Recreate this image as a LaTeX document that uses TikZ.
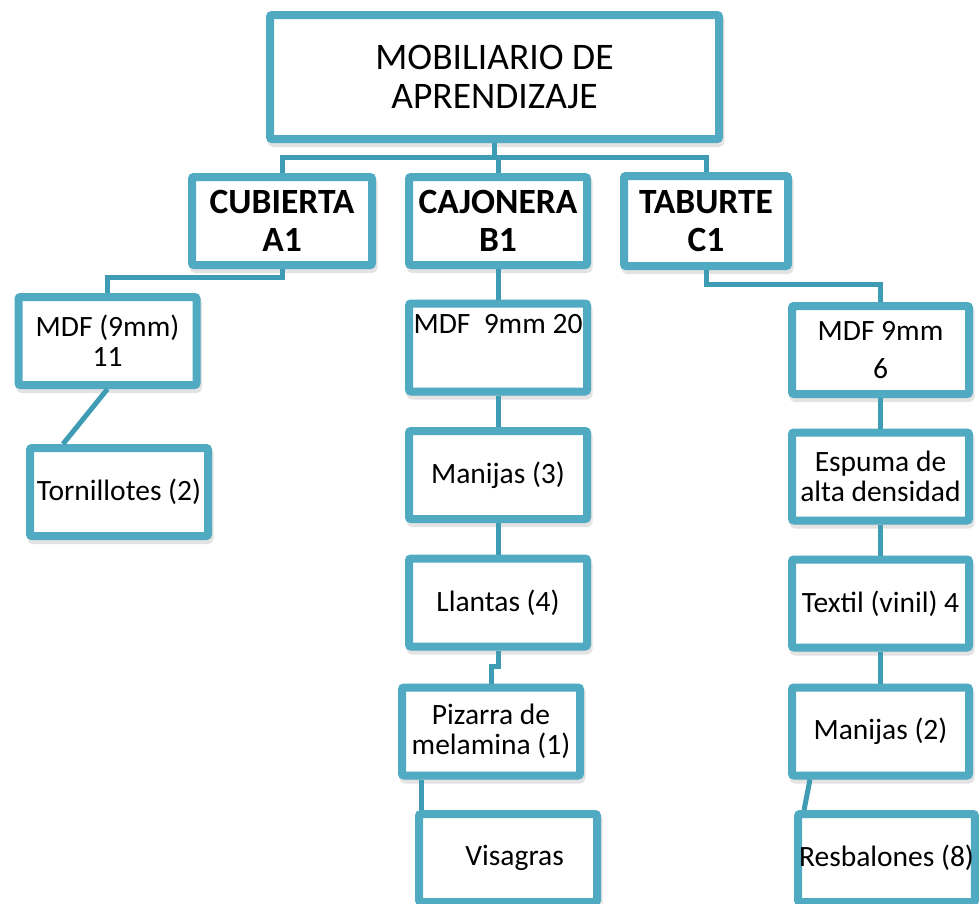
\documentclass[tikz,border=0pt]{standalone}
\usepackage{fontspec}
\setmainfont{Carlito}
\definecolor{mobblue}{RGB}{80, 170, 194}
\definecolor{linkblue}{RGB}{62, 156, 180}
\usetikzlibrary{shadows}
\tikzstyle{part} = [draw=mobblue, fill=white, line width=8pt, rounded corners=2pt,
                    minimum width=178pt, minimum height=88pt, inner sep=1pt, align=center,
                    font=\fontsize{29.5}{30}\selectfont,
                    drop shadow={draw=black!60, line width=8pt, opacity=0.18,
                                 shadow xshift=1.5pt, shadow yshift=-4pt}]
\tikzstyle{family} = [part, font=\bfseries\fontsize{35.5}{38}\selectfont]
\tikzstyle{link} = [draw=linkblue, line width=5pt]

\begin{document}
\begin{tikzpicture}[x=1pt, y=-1pt]
    \useasboundingbox (0,0) rectangle (979,903);
    \node[part, minimum width=449pt, minimum height=124pt, font=\fontsize{37.5}{39}\selectfont] (top) at (494.5, 77) {MOBILIARIO DE\\APRENDIZAJE};
    \node[family, minimum width=180pt] (cub) at (282, 221) {CUBIERTA\\A1};
    \node[family] (caj) at (498, 221) {CAJONERA\\B1};
    \node[family, minimum width=164pt, minimum height=90pt] (tab) at (706, 221) {TABURTE\\C1};
    \draw[link] (top.south) -- ++(0,14) -| (cub.north);
    \draw[link] (top.south) -- ++(0,14) -| (caj.north);
    \draw[link] (top.south) -- ++(0,14) -| (tab.north);

    \node[part] (mdfa) at (107.5, 341) {MDF (9mm)\\11};
    \node[part] (torn) at (119, 492) {Tornillotes (2)};
    \draw[link] (cub.south) -- ++(0,8) -| (mdfa.north);
    \draw[link] (mdfa.south) -- ([xshift=-56pt]torn.north);

    \node[part] (mdfb) at (498, 347.5) {MDF\ \ 9mm 20\\[8pt]\strut};
    \node[part] (manb) at (498, 475) {Manijas (3)};
    \node[part] (llan) at (498, 602.5) {Llantas (4)};
    \node[part] (piza) at (491, 731.5) {Pizarra de\\melamina (1)};
    \node[part] (visa) at (508, 858) {\ \ Visagras};
    \draw[link] (caj.south) -- (mdfb.north);
    \draw[link] (mdfb.south) -- (manb.north);
    \draw[link] (manb.south) -- (llan.north);
    \draw[link] (llan.south) -- ++(0,16) -| (piza.north);
    \draw[link] ([xshift=23pt]piza.south west) -- ([xshift=6pt]visa.north west);

    \node[part, minimum width=177pt] (mdfc) at (880.5, 350) {MDF 9mm\\[8pt]6};
    \node[part, minimum width=177pt] (espu) at (880.5, 476.5) {Espuma de\\alta densidad};
    \node[part, minimum width=177pt] (text) at (880.5, 603.5) {Textil (vinil) 4};
    \node[part, minimum width=177pt] (manc) at (880.5, 731.5) {Manijas (2)};
    \node[part, minimum width=175pt] (resb) at (886.5, 858) {Resbalones (8)};
    \draw[link] (tab.south) -- ++(0,14) -| (mdfc.north);
    \draw[link] (mdfc.south) -- (espu.north);
    \draw[link] (espu.south) -- (text.north);
    \draw[link] (text.south) -- (manc.north);
    \draw[link] ([xshift=22pt]manc.south west) -- ([xshift=10pt]resb.north west);
\end{tikzpicture}
\end{document}
